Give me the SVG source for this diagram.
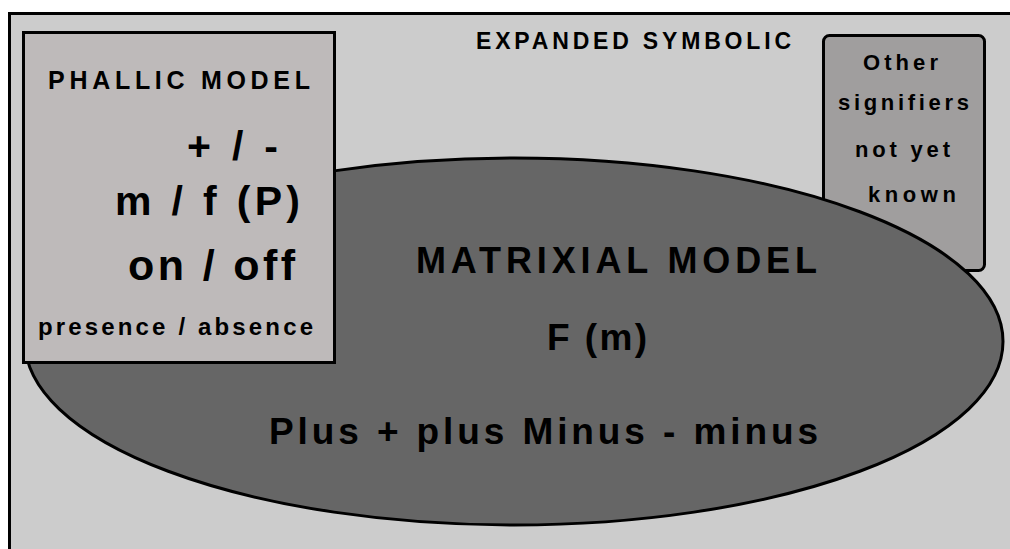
<svg xmlns="http://www.w3.org/2000/svg" width="1010" height="549" viewBox="0 0 1010 549">
  <defs>
    <style>
      text { font-family: "Liberation Sans", Arial, Helvetica, sans-serif; font-weight: bold; fill: #000; }
      .frame { fill: #cccccc; stroke: #000; stroke-width: 3; }
      .phallic { fill: #bebaba; stroke: #000; stroke-width: 3; }
      .other { fill: #a09e9e; stroke: #000; stroke-width: 3; }
      .matrix { fill: #666666; stroke: #000; stroke-width: 3; }
    </style>
  </defs>
  <rect x="0" y="0" width="1010" height="549" fill="#ffffff"/>
  <g id="expanded-symbolic">
    <rect class="frame" x="9.5" y="13.5" width="1020" height="560"/>
    <text x="476" y="49" font-size="23" textLength="315" lengthAdjust="spacing">EXPANDED SYMBOLIC</text>
  </g>
  <g id="other-signifiers">
    <rect class="other" x="823.5" y="35.5" width="161" height="235" rx="6" ry="6"/>
    <text x="863" y="70" font-size="22" textLength="75" lengthAdjust="spacing">Other</text>
    <text x="838" y="110" font-size="22" textLength="131" lengthAdjust="spacing">signifiers</text>
    <text x="855" y="157" font-size="22" textLength="95" lengthAdjust="spacing">not yet</text>
    <text x="868" y="202" font-size="22" textLength="88" lengthAdjust="spacing">known</text>
  </g>
  <g id="matrixial-model">
    <ellipse class="matrix" cx="514" cy="341.5" rx="489" ry="183.5"/>
    <text x="416" y="273" font-size="36" textLength="401" lengthAdjust="spacing">MATRIXIAL MODEL</text>
    <text x="547" y="350" font-size="37" textLength="100" lengthAdjust="spacing">F (m)</text>
    <text x="269" y="444" font-size="37" textLength="549" lengthAdjust="spacing">Plus + plus Minus - minus</text>
  </g>
  <g id="phallic-model">
    <rect class="phallic" x="23.5" y="32.5" width="311" height="330"/>
    <text x="48" y="89" font-size="25" textLength="262" lengthAdjust="spacing">PHALLIC MODEL</text>
    <text x="187" y="160" font-size="41" textLength="91" lengthAdjust="spacing">+ / -</text>
    <text x="115" y="215" font-size="41" textLength="185" lengthAdjust="spacing">m / f (P)</text>
    <text x="128" y="280" font-size="43" textLength="167" lengthAdjust="spacing">on / off</text>
    <text x="38" y="335" font-size="24" textLength="275" lengthAdjust="spacing">presence / absence</text>
  </g>
  <g id="connectors"></g>
</svg>
